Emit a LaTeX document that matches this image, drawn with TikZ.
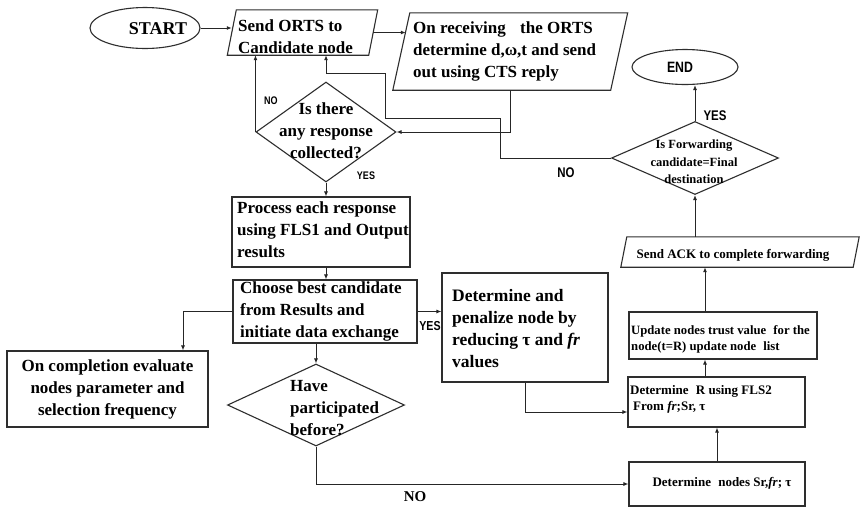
\documentclass[tikz,border=0pt]{standalone}
\usepackage{fontspec}
\setmainfont{Liberation Serif}
\newfontfamily\lblfont{Liberation Sans}[FakeStretch=0.82]
\usetikzlibrary{shapes.geometric,arrows.meta}

% slanted box drawn around an invisible rectangular frame
\newcommand\pgram[2]{\draw[outline] ([xshift=#2]#1.north west) -- ([xshift=#2]#1.north east)
  -- ([xshift=-#2]#1.south east) -- ([xshift=-#2]#1.south west) -- cycle;}

\begin{document}
\begin{tikzpicture}[x=1pt,y=-1pt,
  outline/.style={draw=black!82, line width=1.1pt},
  box/.style={outline, rectangle, inner sep=0pt},
  frame/.style={rectangle, inner sep=0pt},
  term/.style={outline, ellipse, inner sep=0pt},
  decision/.style={outline, diamond, inner sep=0pt},
  body/.style={font=\bfseries\fontsize{17}{22}\selectfont, inner sep=0pt, align=left},
  bodyc/.style={body, align=center},
  small/.style={font=\bfseries\fontsize{13}{16}\selectfont, inner sep=0pt, align=left},
  lbl/.style={font=\lblfont\bfseries\fontsize{#1}{#1}\selectfont, inner sep=0pt},
  arr/.style={-{Latex[length=5pt,width=4pt]}, line width=1pt, draw=black!85}
]
\fill[white] (0,0) rectangle (860,507);
\useasboundingbox (0,0) rectangle (860,507);

% ---- shapes ----
\node[term, minimum width=110pt, minimum height=41pt] (start) at (145,28) {};
\node[font=\bfseries\fontsize{18}{20}\selectfont, inner sep=0pt] (starttxt) at (158,29) {START};

\node[frame, minimum width=141pt, minimum height=45pt] (orts) at (302.5,32.5) {};
\pgram{orts}{4.5pt}
\node[body, anchor=west] (ortstxt) at (238,37) {Send ORTS to\\Candidate node};

\node[frame, minimum width=217.5pt, minimum height=77pt] (recv) at (510.25,51.5) {};
\pgram{recv}{8.5pt}
\node[body, anchor=west] (recvtxt) at (413,51.5) {On receiving\hspace{10pt} the ORTS\\determine d,ω,t and send\\out using CTS reply};

\node[decision, minimum width=140pt, minimum height=100pt] (resp) at (326,132) {};
\node[bodyc] (resptxt) at (326,131) {Is there\\any response\\collected?};

\node[box, minimum width=178pt, minimum height=70pt] (proc) at (321,232) {};
\node[body, anchor=west] (proctxt) at (237,230) {Process each response\\using FLS1 and Output\\results};

\node[box, minimum width=184pt, minimum height=63pt] (choose) at (325,311.5) {};
\node[body, anchor=west] (choosetxt) at (240,311.5) {Choose best candidate\\from Results and\\initiate data exchange};

\node[box, minimum width=201pt, minimum height=76pt] (comp) at (107.5,389) {};
\node[bodyc] (comptxt) at (107.5,389) {On completion evaluate\\nodes parameter and\\selection frequency};

\node[decision, minimum width=177pt, minimum height=82pt] (have) at (316,405) {};
\node[body, anchor=west] (havetxt) at (290,408) {Have\\participated\\before?};

\node[box, minimum width=166pt, minimum height=109pt] (pen) at (525,327.5) {};
\node[body, font=\bfseries\fontsize{17.5}{22}\selectfont, anchor=west] (pentxt) at (452,329)
  {Determine and\\penalize node by\\reducing τ and \textit{fr}\\values};

\node[box, minimum width=177pt, minimum height=50pt] (detR) at (716.5,402) {};
\node[small, anchor=west] (detRtxt) at (630,399) {Determine\hspace{4pt} R using FLS2\\\hspace{3pt}From \textit{fr};Sr, τ};

\node[box, minimum width=188pt, minimum height=47pt] (upd) at (723,335.5) {};
\node[small, font=\bfseries\fontsize{12.7}{16}\selectfont, anchor=west] (updtxt) at (631,339)
  {Update nodes trust value\hspace{4pt} for the\\node(t=R) update node\hspace{4pt} list};

\node[box, minimum width=176pt, minimum height=44pt] (detn) at (717,484) {};
\node[small] (detntxt) at (722,483) {Determine\hspace{4pt} nodes Sr,\textit{fr}; τ};

\node[frame, minimum width=232pt, minimum height=30pt] (ack) at (740,252) {};
\pgram{ack}{3pt}
\node[small] (acktxt) at (733,255) {Send ACK to complete forwarding};

\node[decision, minimum width=167pt, minimum height=73pt] (fwd) at (695,158) {};
\node[font=\bfseries\fontsize{12.5}{17.5}\selectfont, align=center, inner sep=0pt] (fwdtxt) at (694,162)
  {Is Forwarding\\candidate=Final\\destination};

\node[term, minimum width=106pt, minimum height=35pt] (end) at (685,67) {};
\node[lbl=15] (endtxt) at (680,67.5) {END};

% ---- connectors ----
\draw[arr] (start.east) -- (start.east -| orts.west);
\draw[arr] (orts.east) -- ([xshift=4.5pt]orts.east -| recv.west);
\draw[arr] (resp.west) -- (resp.west |- orts.south);
\draw[arr] (recv.south) |- (resp.east);

\coordinate (n1) at (500,158);
\coordinate (n2) at (500,118);
\coordinate (n3) at (385,118);
\coordinate (n4) at (385,73);
\draw[arr] (fwd.west) -- (n1) -- (n2) -- (n3) -- (n4) -| ([xshift=23.5pt]orts.south);

\draw[arr] (resp.south) -- (resp.south |- proc.north);
\draw[arr] (proc.south -| resp.south) -- (choose.north -| resp.south);
\draw[arr] (choose.west) -| ([xshift=75.5pt]comp.north);
\draw[arr] (choose.south -| have.north) -- (have.north);
\draw[arr] (have.south) |- (detn.west);
\draw[arr] (choose.east) -- (choose.east -| pen.west);
\draw[arr] (pen.south) |- ([yshift=-10pt]detR.west);
\draw[arr] (detn.north) -- (detn.north |- detR.south);
\draw[arr] ([xshift=-11.5pt]detR.north) -- ([xshift=-11.5pt]detR.north |- upd.south);
\draw[arr] ([xshift=-18pt]upd.north) -- ([xshift=-18pt]upd.north |- ack.south);
\draw[arr] (fwd.south |- ack.north) -- (fwd.south);
\draw[arr] (fwd.north) -- (fwd.north |- end.south);

% ---- branch labels ----
\node[lbl=11] (no1) at (271,101) {NO};
\node[lbl=11] (yes1) at (366,176) {YES};
\node[lbl=13] (yes2) at (430,326) {YES};
\node[lbl=14] (no2) at (566,173) {NO};
\node[lbl=14] (yes3) at (715,116) {YES};
\node[font=\bfseries\fontsize{15}{15}\selectfont, inner sep=0pt] (no3) at (415,497) {NO};
\end{tikzpicture}
\end{document}
